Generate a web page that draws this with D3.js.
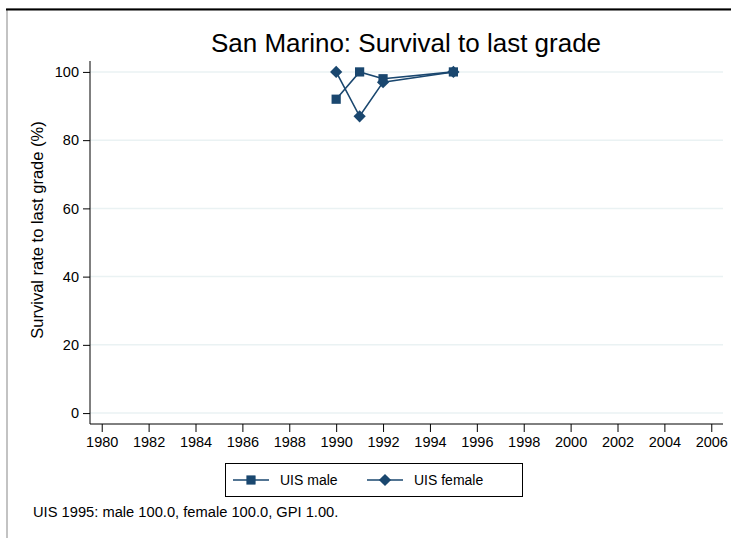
<!DOCTYPE html>
<html>
<head>
<meta charset="utf-8">
<script src="https://cdn.jsdelivr.net/npm/d3@7"></script>
<style>
  body { margin: 0; background: #fff; }
  text { font-family: "Liberation Sans", Arial, sans-serif; fill: #000; }
</style>
</head>
<body>
<svg width="731" height="538"></svg>
<script>
"use strict";

const title = "San Marino: Survival to last grade";
const yAxisLabel = "Survival rate to last grade (%)";
const note = "UIS 1995: male 100.0, female 100.0, GPI 1.00.";

const years = [1990, 1991, 1992, 1995];
const maleValues = [92, 100, 98, 100];
const femaleValues = [100, 87, 97, 100];
const xTicks = d3.range(1980, 2007, 2);
const yTicks = [0, 20, 40, 60, 80, 100];
const seriesNames = ["UIS male", "UIS female"];

const color = "#1a476f";
const gridColor = "#eaf2f3";

const svg = d3.select("svg");

// outer frame
svg.append("rect")
  .attr("x", 7).attr("y", 9)
  .attr("width", 740).attr("height", 540)
  .attr("fill", "none").attr("stroke", "#888").attr("stroke-width", 1);
svg.append("line")
  .attr("x1", 6).attr("x2", 731).attr("y1", 9.5).attr("y2", 9.5)
  .attr("stroke", "#000").attr("stroke-width", 2);

const xScale = d3.scaleLinear().domain([1979.5, 2006.5]).range([90, 723]);
const yScale = d3.scaleLinear().domain([-3.2, 103.2]).range([424, 61]);

// grid
svg.append("g")
  .selectAll("line")
  .data(yTicks)
  .enter()
  .append("line")
  .attr("x1", 90).attr("x2", 723)
  .attr("y1", d => yScale(d)).attr("y2", d => yScale(d))
  .attr("stroke", gridColor).attr("stroke-width", 1.5);

const yAxis = d3.axisLeft(yScale).tickValues(yTicks).tickSize(7).tickPadding(4);
const yAxisG = svg.append("g").attr("transform", "translate(90,0)").call(yAxis);
yAxisG.selectAll("text").style("font-size", "14.5px");
yAxisG.select(".domain").attr("d", "M0,61V424");

const xAxis = d3.axisBottom(xScale).tickValues(xTicks).tickSize(8).tickPadding(5).tickFormat(d3.format("d"));
const xAxisG = svg.append("g").attr("transform", "translate(0,424)").call(xAxis);
xAxisG.selectAll("text").style("font-size", "14.5px");
xAxisG.select(".domain").attr("d", "M90,0H723");

svg.selectAll(".tick line").attr("stroke", "#000");

// title and labels
svg.append("text")
  .attr("x", 406).attr("y", 52)
  .attr("text-anchor", "middle")
  .style("font-size", "26px")
  .text(title);

svg.append("text")
  .attr("transform", "translate(43,230) rotate(-90)")
  .attr("text-anchor", "middle")
  .style("font-size", "16.5px")
  .text(yAxisLabel);

svg.append("text")
  .attr("x", 33).attr("y", 517)
  .style("font-size", "14.7px")
  .text(note);

const line = d3.line()
  .x(d => xScale(d[0]))
  .y(d => yScale(d[1]));

const maleData = years.map((y, i) => [y, maleValues[i]]);
const femaleData = years.map((y, i) => [y, femaleValues[i]]);

const square = d3.symbol().type(d3.symbolSquare).size(85);
const diamond = d3.symbol().type(d3.symbolSquare).size(75);

const drawSeries = (data, sym, rot) => {
  svg.append("path")
    .datum(data)
    .attr("d", line)
    .attr("fill", "none")
    .attr("stroke", color)
    .attr("stroke-width", 1.6);
  svg.append("g")
    .selectAll("path")
    .data(data)
    .enter()
    .append("path")
    .attr("d", sym)
    .attr("transform", d => `translate(${xScale(d[0])},${yScale(d[1])}) rotate(${rot})`)
    .attr("fill", color);
};

drawSeries(maleData, square, 0);
drawSeries(femaleData, diamond, 45);

// legend
const legend = svg.append("g");
legend.append("rect")
  .attr("x", 225.5).attr("y", 463.5)
  .attr("width", 297).attr("height", 33)
  .attr("fill", "#fff").attr("stroke", "#000");

const legendItems = [
  { name: seriesNames[0], x: 233, sym: square, rot: 0 },
  { name: seriesNames[1], x: 367, sym: diamond, rot: 45 }
];
legendItems.forEach(it => {
  legend.append("line")
    .attr("x1", it.x).attr("x2", it.x + 36)
    .attr("y1", 480).attr("y2", 480)
    .attr("stroke", color).attr("stroke-width", 1.6);
  legend.append("path")
    .attr("d", it.sym)
    .attr("transform", `translate(${it.x + 18},480) rotate(${it.rot})`)
    .attr("fill", color);
  legend.append("text")
    .attr("x", it.x + 47).attr("y", 485)
    .style("font-size", "14px")
    .text(it.name);
});
</script>
</body>
</html>
